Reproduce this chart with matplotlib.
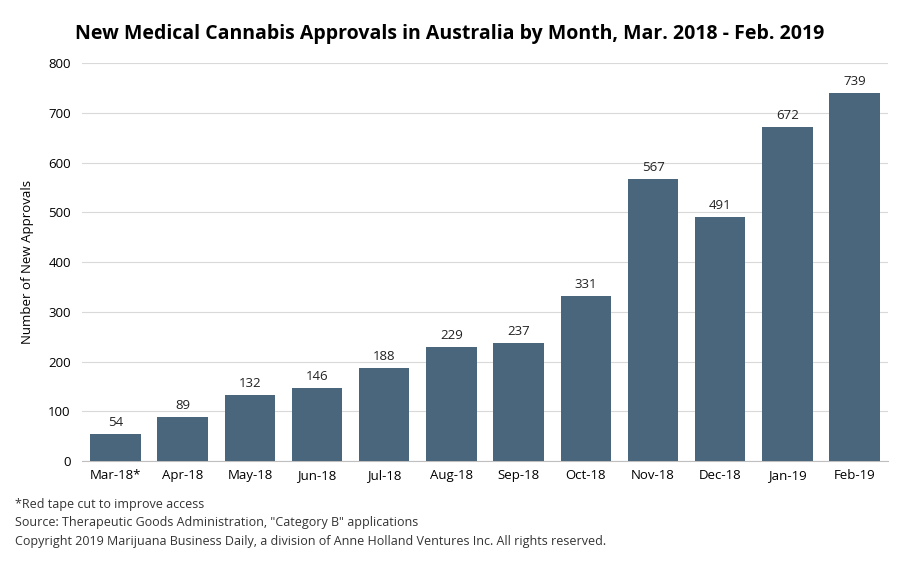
import matplotlib
matplotlib.use("Agg")
import matplotlib.pyplot as plt

plt.rcParams['font.family'] = ['Open Sans', 'DejaVu Sans']

months = ["Mar-18*", "Apr-18", "May-18", "Jun-18", "Jul-18", "Aug-18",
          "Sep-18", "Oct-18", "Nov-18", "Dec-18", "Jan-19", "Feb-19"]
approvals = [54, 89, 132, 146, 188, 229, 237, 331, 567, 491, 672, 739]
yticks = [0, 100, 200, 300, 400, 500, 600, 700, 800]

fig = plt.figure(figsize=(9, 5.63), dpi=100)
ax = fig.add_axes([0.091, 0.181, 0.896, 0.707])

x = range(len(months))
ax.bar(x, approvals, width=0.75, color="#4a667c", zorder=3)
for xi, v in zip(x, approvals):
    ax.text(xi, v + 10, str(v), ha="center", va="bottom", fontsize=9.5, color="#222222")

ax.set_xlim(-0.5, len(months) - 0.5)
ax.set_ylim(0, 800)
ax.set_yticks(yticks)
ax.set_xticks(list(x))
ax.set_xticklabels(months, fontsize=9.5)
ax.tick_params(axis="y", labelsize=9.5, length=0, pad=8)
ax.tick_params(axis="x", length=0, pad=6)
ax.grid(axis="y", color="#d9d9d9", linewidth=0.8, zorder=0)
for s in ["top", "right", "left"]:
    ax.spines[s].set_visible(False)
ax.spines["bottom"].set_color("#bfbfbf")
ax.set_ylabel("Number of New Approvals", fontsize=9.5, labelpad=10)

fig.text(0.5, 0.93, "New Medical Cannabis Approvals in Australia by Month, Mar. 2018 - Feb. 2019",
         ha="center", fontsize=14, fontweight="bold")
fig.text(0.017, 0.098, "*Red tape cut to improve access", fontsize=9, color="#333333")
fig.text(0.017, 0.065, "Source: Therapeutic Goods Administration, \"Category B\" applications", fontsize=9, color="#333333")
fig.text(0.017, 0.032, "Copyright 2019 Marijuana Business Daily, a division of Anne Holland Ventures Inc. All rights reserved.",
         fontsize=9, color="#333333")

fig.savefig("out.png", dpi=100)
